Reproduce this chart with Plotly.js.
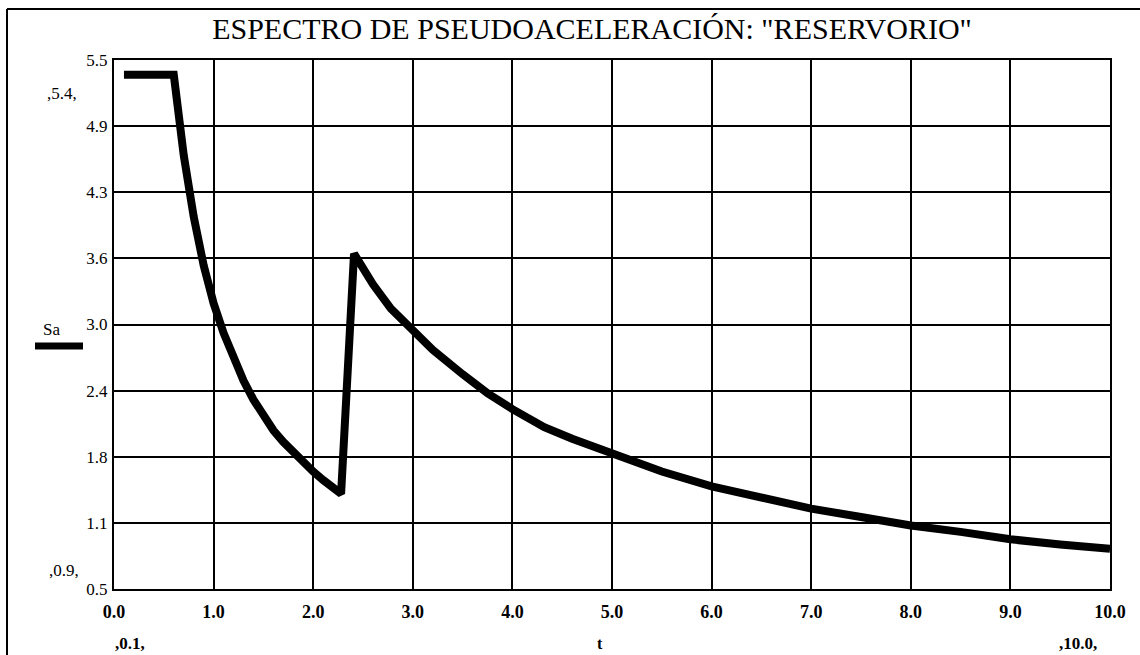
<!DOCTYPE html>
<html>
<head>
<meta charset="utf-8">
<script src="https://cdn.plot.ly/plotly-3.0.1.min.js"></script>
<style>
  html, body { margin: 0; padding: 0; background: #fff; }
  #chart { width: 1140px; height: 655px; }
</style>
</head>
<body>
<div id="chart"></div>
<script>
// Period t (s)
const tValues = [0.1, 0.6, 0.7, 0.8, 0.9, 1.0, 1.1, 1.2, 1.3, 1.4, 1.5, 1.6, 1.7, 1.8, 1.9,
                 2.0, 2.1, 2.2, 2.28,
                 2.41, 2.6, 2.78, 3.0, 3.2, 3.5, 3.75, 4.0, 4.32, 4.6, 5.0, 5.5, 6.0, 6.5,
                 7.0, 7.5, 8.0, 8.5, 9.0, 9.5, 10.0];
// Pseudo-acceleration Sa
const saValues = [5.36, 5.36, 4.6, 4.02, 3.56, 3.2, 2.92, 2.68, 2.47, 2.29, 2.14, 2.0, 1.89,
                  1.79, 1.69, 1.61, 1.53, 1.46, 1.40,
                  3.67, 3.38, 3.15, 2.95, 2.76, 2.53, 2.35, 2.2, 2.03, 1.92, 1.78, 1.61, 1.47,
                  1.36, 1.26, 1.18, 1.10, 1.04, 0.97, 0.92, 0.88];
// Y tick positions and labels
const yTickVals = [0.5, 1.125, 1.75, 2.375, 3.0, 3.625, 4.25, 4.875, 5.5];
const yTickText = ["0.5", "1.1", "1.8", "2.4", "3.0", "3.6", "4.3", "4.9", "5.5"];
// X tick positions and labels
const xTickVals = [0, 1, 2, 3, 4, 5, 6, 7, 8, 9, 10];
const xTickText = ["0.0", "1.0", "2.0", "3.0", "4.0", "5.0", "6.0", "7.0", "8.0", "9.0", "10.0"];

const titleText = 'ESPECTRO DE PSEUDOACELERACIÓN: "RESERVORIO"';
const serif = '"Liberation Serif", "Times New Roman", serif';

// plot area in pixels: x 114..1110, y 60..589
const L = 114, R = 1110, T = 60, B = 589;
const px = x => (x - L) / (R - L);
const py = y => (B - y) / (B - T);

const trace = {
  x: tValues,
  y: saValues,
  type: 'scatter',
  mode: 'lines',
  line: { color: '#000', width: 8 },
  hoverinfo: 'x+y',
  showlegend: false
};

function ann(text, x, y, size, bold) {
  return {
    text: bold ? '<b>' + text + '</b>' : text,
    xref: 'paper', yref: 'paper',
    x: px(x), y: py(y),
    xanchor: 'center', yanchor: 'middle',
    showarrow: false,
    font: { family: serif, size: size, color: '#000' }
  };
}

const layout = {
  width: 1140,
  height: 655,
  font: { family: serif, color: '#000' },
  paper_bgcolor: '#fff',
  plot_bgcolor: '#fff',
  margin: { l: L, r: 1140 - R, t: T, b: 655 - B, pad: 0 },
  title: {
    text: titleText,
    xref: 'container', yref: 'container',
    x: 592 / 1140, y: 1 - 28 / 655,
    xanchor: 'center', yanchor: 'middle',
    font: { family: serif, size: 30, color: '#000' }
  },
  xaxis: {
    range: [0, 10],
    tickvals: xTickVals,
    ticktext: xTickText,
    showgrid: true,
    gridcolor: '#000',
    gridwidth: 2,
    zeroline: false,
    showline: true,
    linecolor: '#000',
    linewidth: 2,
    mirror: true,
    ticks: '',
    ticklabelstandoff: 5,
    tickfont: { family: serif, size: 18, color: '#000', weight: 'bold' },
    fixedrange: true
  },
  yaxis: {
    range: [0.5, 5.5],
    tickvals: yTickVals,
    ticktext: yTickText,
    showgrid: true,
    gridcolor: '#000',
    gridwidth: 2,
    zeroline: false,
    showline: true,
    linecolor: '#000',
    linewidth: 2,
    mirror: true,
    ticks: '',
    ticklabelstandoff: 1,
    tickfont: { family: serif, size: 17, color: '#000' },
    fixedrange: true
  },
  shapes: [
    // outer frame: left and top lines
    { type: 'line', xref: 'paper', yref: 'paper', x0: px(7), x1: px(7), y0: py(9), y1: py(660),
      line: { color: '#000', width: 2 } },
    { type: 'line', xref: 'paper', yref: 'paper', x0: px(7), x1: px(1140), y0: py(9), y1: py(9),
      line: { color: '#000', width: 2 } },
    // legend sample line for Sa
    { type: 'line', xref: 'paper', yref: 'paper', x0: px(35), x1: px(83), y0: py(346), y1: py(346),
      line: { color: '#000', width: 7 } }
  ],
  annotations: [
    ann(',5.4,', 62, 93, 17, false),
    ann(',0.9,', 64, 570, 17, false),
    ann('Sa', 51, 329, 17, false),
    ann(',0.1,', 130, 644, 17, true),
    ann('t', 600, 644, 16, true),
    ann(',10.0,', 1078, 644, 17, true)
  ]
};

Plotly.newPlot('chart', [trace], layout, { displayModeBar: false, staticPlot: true });
</script>
</body>
</html>
